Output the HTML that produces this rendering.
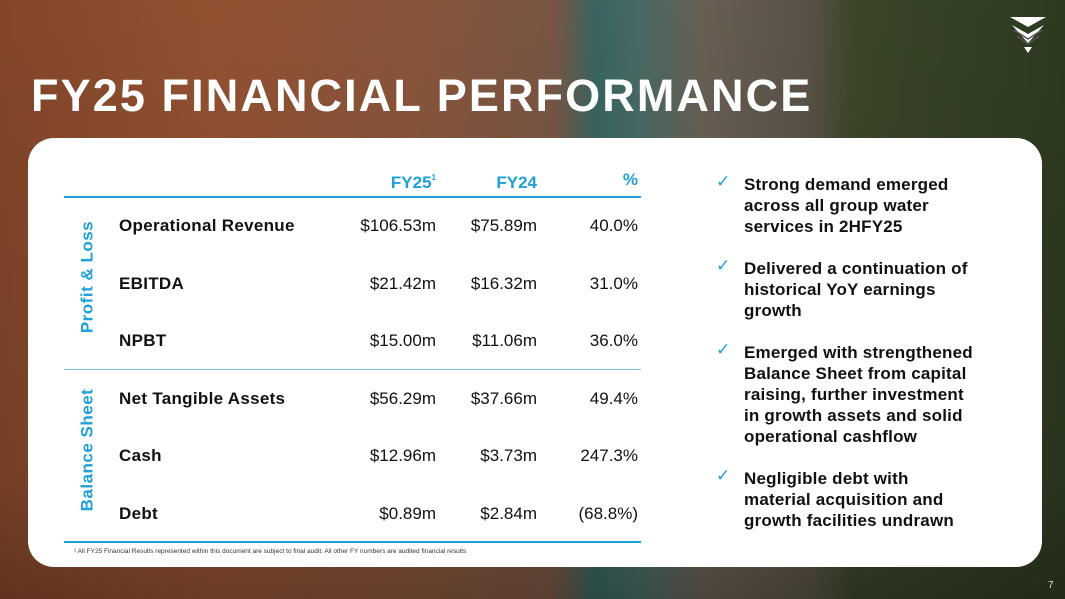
<!DOCTYPE html>
<html><head><meta charset="utf-8"><style>
*{margin:0;padding:0;box-sizing:border-box}
body{width:1065px;height:599px;overflow:hidden;position:relative;font-family:"Liberation Sans",sans-serif;
background:linear-gradient(90deg,#8a4a2c 0%,#9a5534 20%,#8e5a3e 40%,#7e5a48 52%,#3c6a66 56%,#4c6f6a 60%,#6e6458 66%,#5e564a 76%,#3e4a2c 80%,#2f3d22 100%);}
.shade{position:absolute;inset:0;background:linear-gradient(180deg,rgba(0,0,0,.05),rgba(0,0,0,.15) 80%,rgba(0,0,0,.3))}
h1{position:absolute;left:31px;top:70px;font-size:45px;font-weight:bold;color:#fff;letter-spacing:2.1px}
.card{position:absolute;left:28px;top:138px;width:1014px;height:429px;background:#fff;border-radius:26px}
.t{position:absolute;font-size:17px;font-weight:bold;color:#111;white-space:nowrap;letter-spacing:0.3px}
.n{position:absolute;font-size:17px;color:#111;white-space:nowrap;text-align:right}
.h{position:absolute;font-size:17px;font-weight:bold;color:#1ea0d8;text-align:right}
.line{position:absolute;left:64px;width:577px;height:2px;background:#1ea0d8}
.v{position:absolute;font-size:17px;font-weight:bold;color:#1ea0d8;transform:rotate(-90deg);white-space:nowrap;letter-spacing:0.5px}
.b{position:absolute;left:744px;font-size:17px;font-weight:bold;color:#111;line-height:21px;letter-spacing:0.2px}
.ck{position:absolute;left:716px;color:#1ea0d8;font-size:17px}
</style></head><body>
<div class="shade"></div>
<svg style="position:absolute;left:1010px;top:17px" width="36" height="36" viewBox="0 0 36 36"><path d="M0 0H36L18 10Z M2 8L18 17L34 8L18 26Z" fill="#fff"/><path d="M4 13L18 22L32 13M7 19L18 27L29 19" stroke="#555" stroke-width="1.5" fill="none"/><path d="M14 30L18 36L22 30Z" fill="#fff"/></svg>
<h1>FY25 FINANCIAL PERFORMANCE</h1>
<div class="card"></div>
<div class="h" style="left:350px;top:173px;width:86px">FY25<span style="font-size:8px;vertical-align:top">1</span></div>
<div class="h" style="left:450px;top:173px;width:87px">FY24</div>
<div class="h" style="left:560px;top:170px;width:78px">%</div>
<div class="line" style="top:196px"></div>
<div class="line" style="top:369px;height:1px;background:#7cc6e6"></div>
<div class="line" style="top:541px"></div>
<div class="v" style="left:30px;top:267px;width:115px;text-align:center">Profit &amp; Loss</div>
<div class="v" style="left:26px;top:440px;width:123px;text-align:center">Balance Sheet</div>

<div class="t" style="left:119px;top:216px">Operational Revenue</div>
<div class="n" style="left:330px;top:216px;width:106px">$106.53m</div>
<div class="n" style="left:430px;top:216px;width:107px">$75.89m</div>
<div class="n" style="left:540px;top:216px;width:98px">40.0%</div>

<div class="t" style="left:119px;top:274px">EBITDA</div>
<div class="n" style="left:330px;top:274px;width:106px">$21.42m</div>
<div class="n" style="left:430px;top:274px;width:107px">$16.32m</div>
<div class="n" style="left:540px;top:274px;width:98px">31.0%</div>

<div class="t" style="left:119px;top:331px">NPBT</div>
<div class="n" style="left:330px;top:331px;width:106px">$15.00m</div>
<div class="n" style="left:430px;top:331px;width:107px">$11.06m</div>
<div class="n" style="left:540px;top:331px;width:98px">36.0%</div>

<div class="t" style="left:119px;top:389px">Net Tangible Assets</div>
<div class="n" style="left:330px;top:389px;width:106px">$56.29m</div>
<div class="n" style="left:430px;top:389px;width:107px">$37.66m</div>
<div class="n" style="left:540px;top:389px;width:98px">49.4%</div>

<div class="t" style="left:119px;top:446px">Cash</div>
<div class="n" style="left:330px;top:446px;width:106px">$12.96m</div>
<div class="n" style="left:430px;top:446px;width:107px">$3.73m</div>
<div class="n" style="left:540px;top:446px;width:98px">247.3%</div>

<div class="t" style="left:119px;top:504px">Debt</div>
<div class="n" style="left:330px;top:504px;width:106px">$0.89m</div>
<div class="n" style="left:430px;top:504px;width:107px">$2.84m</div>
<div class="n" style="left:540px;top:504px;width:98px">(68.8%)</div>

<div style="position:absolute;left:74px;top:548px;font-size:6.5px;color:#333">¹ All FY25 Financial Results represented within this document are subject to final audit. All other FY numbers are audited financial results</div>

<div class="ck" style="top:172px">✓</div>
<div class="b" style="top:174px">Strong demand emerged<br>across all group water<br>services in 2HFY25</div>
<div class="ck" style="top:256px">✓</div>
<div class="b" style="top:258px">Delivered a continuation of<br>historical YoY earnings<br>growth</div>
<div class="ck" style="top:340px">✓</div>
<div class="b" style="top:342px">Emerged with strengthened<br>Balance Sheet from capital<br>raising, further investment<br>in growth assets and solid<br>operational cashflow</div>
<div class="ck" style="top:466px">✓</div>
<div class="b" style="top:468px">Negligible debt with<br>material acquisition and<br>growth facilities undrawn</div>
<div style="position:absolute;left:1048px;top:580px;font-size:10px;color:#ddd">7</div>
</body></html>
